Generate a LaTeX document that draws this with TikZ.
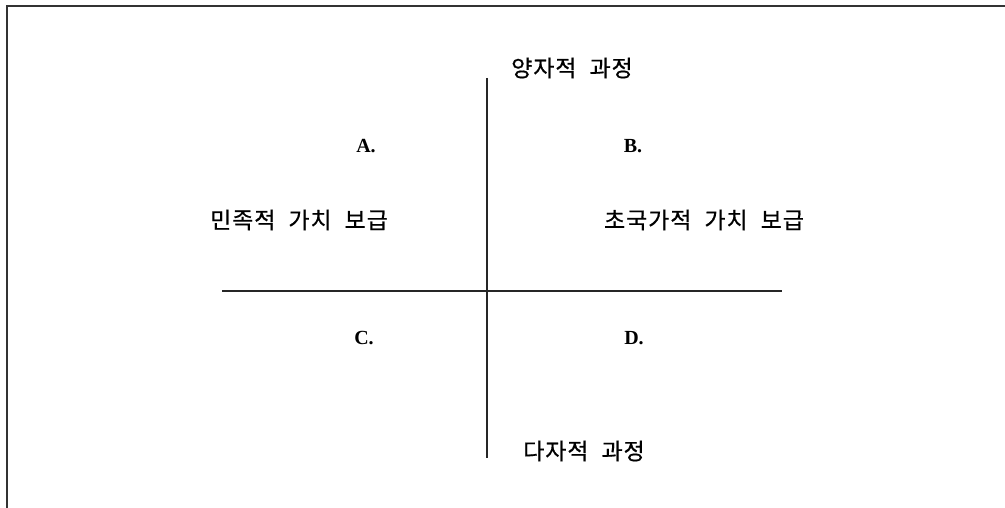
\documentclass[tikz,border=0pt]{standalone}
\usepackage{fontspec}
\setmainfont{Liberation Serif}
\newfontfamily\kr[LetterSpace=4,FakeBold=0.6]{Noto Sans CJK KR}
\newcommand{\wsp}{\hspace{13pt}}
\begin{document}
\begin{tikzpicture}[x=1pt,y=-1pt,
  frameline/.style={line width=2pt,draw=black!80},
  axis/.style={line width=1.1pt,draw=black!85},
  krlabel/.style={font=\kr\fontsize{23}{27}\selectfont,inner sep=0pt,anchor=center},
  letter/.style={font=\bfseries\fontsize{20}{23}\selectfont,inner sep=0pt,anchor=center}]
\useasboundingbox (0,0) rectangle (1005,508);
\coordinate (fb) at (7,508);
\coordinate (fc) at (7,6);
\coordinate (fr) at (1005,6);
\draw[frameline] (fb) -- (fc) -- (fr);
\coordinate (vt) at (487,78);
\coordinate (vb) at (487,458);
\coordinate (hl) at (222,291);
\coordinate (hr) at (782,291);
\draw[axis] (vt) -- (vb);
\draw[axis] (hl) -- (hr);
\node[krlabel] (top) at (572,68) {양자적\wsp 과정};
\node[krlabel] (bot) at (584,451) {다자적\wsp 과정};
\node[krlabel] (left) at (299,220) {민족적\wsp 가치\wsp 보급};
\node[krlabel] (right) at (704,220) {초국가적\wsp 가치\wsp 보급};
\node[letter] (A) at (366,146) {A.};
\node[letter] (B) at (633,146) {B.};
\node[letter] (C) at (364,338) {C.};
\node[letter] (D) at (634,338) {D.};
\end{tikzpicture}
\end{document}
